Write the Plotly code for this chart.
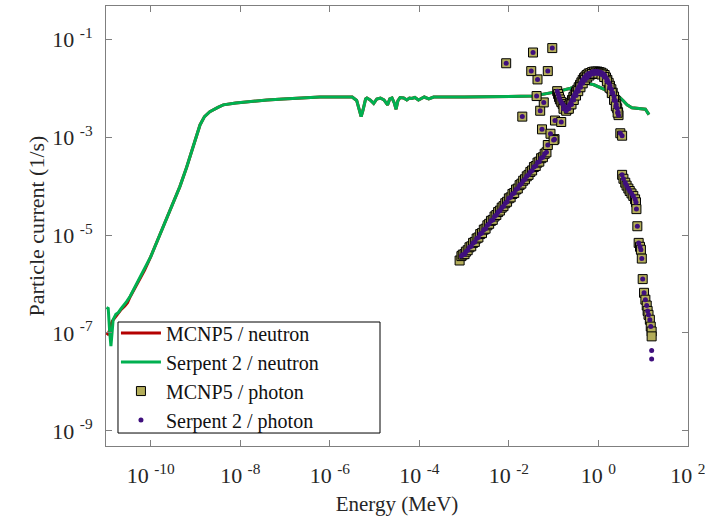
import numpy as np
import plotly.graph_objects as go

# ---------------- data (log10 values) ----------------
# Serpent 2 / neutron : log10(Energy / MeV), log10(current / (1/s))
serp_n_logE = [-10.99, -10.95, -10.92, -10.89, -10.86, -10.84, -10.78, -10.73, -10.66, -10.60,
               -10.54, -10.46, -10.39, -10.30, -10.17, -10.00, -9.87, -9.65, -9.50, -9.35,
               -9.20, -9.05, -8.95, -8.90, -8.80, -8.68, -8.50, -8.38, -8.10, -7.78,
               -7.40, -7.04, -6.60, -6.22, -5.80, -5.50, -5.40, -5.33, -5.30, -5.26,
               -5.20, -5.17, -5.10, -5.02, -4.95, -4.87, -4.79, -4.71, -4.66, -4.61,
               -4.56, -4.52, -4.48, -4.43, -4.35, -4.28, -4.22, -4.17, -4.10, -4.02,
               -3.95, -3.89, -3.79, -3.68, -3.00, -2.20, -1.45, -0.92, -0.62, -0.40,
               -0.25, -0.10, 0.12, 0.27, 0.42, 0.55, 0.64, 0.75, 0.87, 1.00,
               1.05, 1.13]
serp_n_logI = [-6.48, -6.50, -6.95, -7.27, -6.95, -6.73, -6.62, -6.59, -6.50, -6.44,
               -6.36, -6.25, -6.12, -5.97, -5.74, -5.44, -5.16, -4.69, -4.36, -4.01,
               -3.62, -3.19, -2.88, -2.75, -2.58, -2.48, -2.39, -2.34, -2.30, -2.27,
               -2.24, -2.22, -2.20, -2.18, -2.18, -2.18, -2.25, -2.52, -2.58, -2.45,
               -2.22, -2.20, -2.24, -2.31, -2.22, -2.20, -2.24, -2.34, -2.22, -2.20,
               -2.30, -2.43, -2.26, -2.19, -2.20, -2.24, -2.20, -2.21, -2.19, -2.24,
               -2.20, -2.18, -2.22, -2.18, -2.18, -2.17, -2.16, -2.07, -2.00, -1.93,
               -1.90, -1.93, -2.02, -2.08, -2.14, -2.25, -2.34, -2.40, -2.41, -2.42,
               -2.43, -2.54]

# MCNP5 / neutron : low-energy part differs, the rest coincides with Serpent 2
mcnp_n_logE_low = [-10.99, -10.96, -10.93, -10.90, -10.86, -10.80, -10.74, -10.66, -10.58,
                   -10.52, -10.46, -10.40, -10.30, -10.22, -10.14]
mcnp_n_logI_low = [-7.00, -7.02, -6.97, -6.85, -6.76, -6.68, -6.62, -6.52, -6.45,
                   -6.38, -6.26, -6.16, -5.99, -5.85, -5.72]

# MCNP5 / photon
mcnp_p_logE = [
    # rising branch
    -3.10, -3.06, -3.03, -2.99, -2.96, -2.92, -2.88, -2.84, -2.80, -2.76,
    -2.72, -2.68, -2.64, -2.60, -2.56, -2.52, -2.48, -2.44, -2.40, -2.36,
    -2.32, -2.28, -2.24, -2.20, -2.16, -2.12, -2.08, -2.04, -2.00, -1.96,
    -1.92, -1.88, -1.84, -1.80, -1.76, -1.72, -1.68, -1.64, -1.60, -1.56,
    -1.52, -1.48, -1.44, -1.40, -1.36, -1.32, -1.28, -1.24, -1.20, -1.16,
    # scattered group
    -1.26, -1.07, -0.98, -1.13, -1.00, -0.97, -0.83, -1.70, -1.30, -1.22,
    -1.38, -1.36, -1.50, -1.13, -2.06, -1.46, -1.03,
    # arc, outer track
    -0.92, -0.90, -0.88, -0.86, -0.83, -0.80, -0.77, -0.74, -0.70, -0.67,
    -0.65, -0.62, -0.59, -0.56, -0.53, -0.50, -0.47, -0.44, -0.41, -0.38,
    -0.35, -0.32, -0.29, -0.26, -0.22, -0.18, -0.14, -0.10, -0.06, -0.02,
    0.02, 0.06, 0.10, 0.14, 0.17, 0.20, 0.23, 0.26, 0.29, 0.32,
    0.35, 0.38, 0.40, 0.42, 0.44, 0.45,
    # arc, inner track
    -0.78, -0.72, -0.66, -0.60, -0.55, -0.50, -0.45, -0.40, -0.35, -0.30,
    -0.25, -0.20, -0.14, -0.08, 0.00, 0.07, 0.13, 0.19, 0.25, 0.30,
    0.35, 0.39, 0.43,
    # high-energy tail
    0.49, 0.53, 0.53, 0.56, 0.60, 0.63, 0.67, 0.70, 0.74, 0.78,
    0.82, 0.84, 0.85, 0.87, 0.90, 0.93, 0.95, 0.97, 0.99, 1.02,
    1.05, 1.08, 1.10, 1.12, 1.15, 1.17, 1.19, 1.19]
mcnp_p_logI = [
    -5.52, -5.43, -5.40, -5.39, -5.34, -5.31, -5.25, -5.23, -5.16, -5.14,
    -5.07, -5.05, -4.98, -4.96, -4.89, -4.87, -4.80, -4.77, -4.71, -4.69,
    -4.62, -4.59, -4.53, -4.50, -4.44, -4.41, -4.35, -4.32, -4.25, -4.23,
    -4.16, -4.14, -4.07, -4.05, -3.98, -3.95, -3.89, -3.86, -3.80, -3.77,
    -3.71, -3.68, -3.61, -3.59, -3.52, -3.50, -3.43, -3.41, -3.34, -3.31,
    -2.84, -2.93, -3.04, -3.16, -3.06, -2.66, -2.69, -2.58, -2.46, -2.29,
    -2.16, -1.82, -1.65, -1.65, -1.49, -1.27, -1.18,
    -2.06, -2.12, -2.18, -2.23, -2.28, -2.32, -2.36, -2.40, -2.43, -2.40,
    -2.35, -2.30, -2.24, -2.18, -2.13, -2.08, -2.03, -1.98, -1.93, -1.88,
    -1.83, -1.79, -1.76, -1.73, -1.70, -1.69, -1.67, -1.66, -1.66, -1.66,
    -1.67, -1.68, -1.70, -1.73, -1.78, -1.83, -1.89, -1.95, -2.02, -2.09,
    -2.17, -2.25, -2.33, -2.41, -2.49, -2.55,
    -2.42, -2.46, -2.42, -2.33, -2.24, -2.15, -2.06, -1.98, -1.90, -1.83,
    -1.78, -1.74, -1.71, -1.70, -1.70, -1.72, -1.77, -1.86, -1.99, -2.10,
    -2.24, -2.37, -2.50,
    -2.92, -2.97, -3.77, -3.85, -3.93, -3.99, -4.05, -4.10, -4.15, -4.20,
    -4.27, -4.33, -4.47, -4.82, -5.16, -5.24, -5.30, -5.48, -5.90, -6.18,
    -6.32, -6.44, -6.55, -6.63, -6.73, -6.87, -6.97, -7.07]

# Serpent 2 / photon: same grid as MCNP5 except the lowest point and the end of the tail
serp_p_logE_tail = [1.19, 1.19]
serp_p_logI_tail = [-7.36, -7.53]

legend_names = ["MCNP5 / neutron", "Serpent 2 / neutron", "MCNP5 / photon", "Serpent 2 / photon"]

x_tick_exp = [-10, -8, -6, -4, -2, 0, 2]
y_tick_exp = [-9, -7, -5, -3, -1]

# ---------------- build series ----------------
k = serp_n_logE.index(-10.00)
mcnp_n_logE = mcnp_n_logE_low + serp_n_logE[k:]
mcnp_n_logI = mcnp_n_logI_low + serp_n_logI[k:]

serp_p_logE = mcnp_p_logE[1:-2] + serp_p_logE_tail
serp_p_logI = mcnp_p_logI[1:-2] + serp_p_logI_tail

p10 = lambda a: np.power(10.0, np.array(a, dtype=float))

FONT = "Liberation Serif, Times New Roman, serif"
GREY = "#7f7f7f"

fig = go.Figure()
fig.add_trace(go.Scatter(x=p10(mcnp_n_logE), y=p10(mcnp_n_logI), mode="lines",
                         line=dict(color="#b40000", width=3), name=legend_names[0]))
fig.add_trace(go.Scatter(x=p10(serp_n_logE), y=p10(serp_n_logI), mode="lines",
                         line=dict(color="#00b050", width=3), name=legend_names[1]))
fig.add_trace(go.Scatter(x=p10(mcnp_p_logE), y=p10(mcnp_p_logI), mode="markers",
                         marker=dict(symbol="square", size=9, color="#b3ad5a",
                                     line=dict(color="black", width=1)),
                         name=legend_names[2]))
fig.add_trace(go.Scatter(x=p10(serp_p_logE), y=p10(serp_p_logI), mode="markers",
                         marker=dict(symbol="circle", size=5, color="#3f0f7d",
                                     line=dict(width=0)),
                         name=legend_names[3]))

axis_common = dict(type="log", showgrid=False, zeroline=False, showline=True,
                   linecolor=GREY, linewidth=1, mirror="ticks", ticks="inside",
                   ticklen=6, tickwidth=1, tickcolor=GREY, automargin=False,
                   ticklabeloverflow="allow",
                   tickfont=dict(family=FONT, size=22, color="#262626"))

fig.update_layout(
    width=705, height=518, autosize=False,
    margin=dict(l=106, r=17, t=6, b=72),
    paper_bgcolor="white", plot_bgcolor="white",
    font=dict(family=FONT, size=21, color="#262626"),
    xaxis=dict(axis_common, range=[-11, 2.002],
               tickvals=[10.0 ** e for e in x_tick_exp],
               ticktext=[f"10 <sup>{e}</sup>" for e in x_tick_exp],
               ticklabelstandoff=10,
               title=dict(text="Energy (MeV)", font=dict(family=FONT, size=21, color="#262626"),
                          standoff=8)),
    yaxis=dict(axis_common, range=[-9.31, -0.32],
               tickvals=[10.0 ** e for e in y_tick_exp],
               ticktext=[f"10 <sup>{e}</sup>" for e in y_tick_exp],
               ticklabelstandoff=8,
               title=dict(text="Particle current (1/s)", font=dict(family=FONT, size=22, color="#262626"),
                          standoff=1)),
    showlegend=True,
    legend=dict(x=0.0171, y=0.301, xanchor="left", yanchor="top",
                bgcolor="rgba(0,0,0,0)", borderwidth=0, itemwidth=40,
                font=dict(family=FONT, size=20, color="#111111"),
                tracegroupgap=0),
    shapes=[dict(type="rect", xref="paper", yref="paper",
                 x0=0.0206, x1=0.4708, y0=0.0295, y1=0.2818,
                 line=dict(color="black", width=1), fillcolor="rgba(0,0,0,0)", layer="above")],
)

# remove the browser's default 8px page margin so the figure sits at the window origin
fig.write_html("out.html", config={"displayModeBar": False},
               post_script="document.body.style.margin='0px';")
